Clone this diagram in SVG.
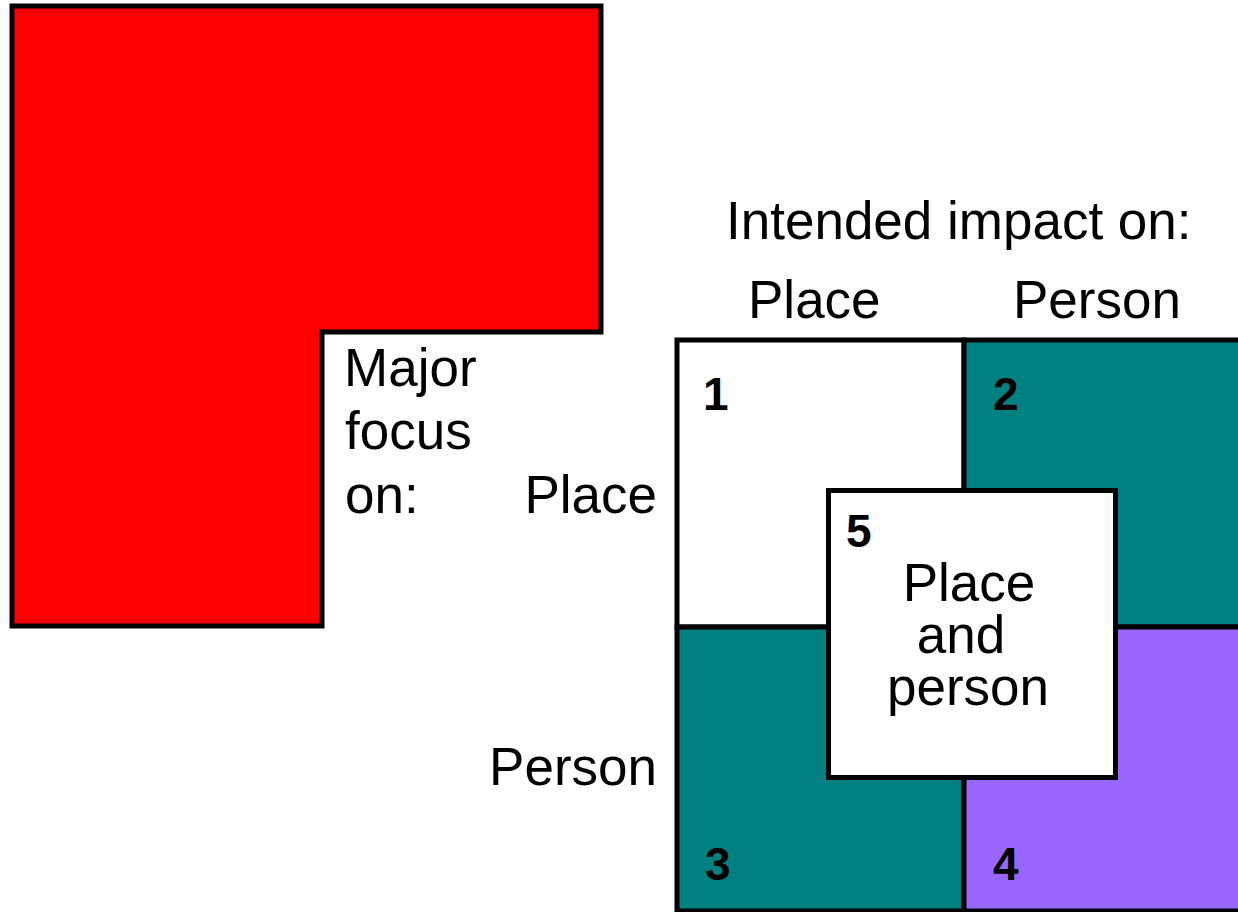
<svg xmlns="http://www.w3.org/2000/svg" width="1238" height="912" viewBox="0 0 1238 912">
<style>
.t{font-family:"Liberation Sans",Arial,sans-serif;font-size:53px;fill:#000}
.n{font-family:"Liberation Sans",Arial,sans-serif;font-size:46px;font-weight:bold;fill:#000}
.s{stroke:#000;stroke-width:5;stroke-linejoin:miter}
</style>
<rect width="1238" height="912" fill="#fff"/>
<g id="red-shape">
<polygon class="s" points="12,6 601,6 601,332 322,332 322,626 12,626" fill="#ff0000"/>
</g>
<g id="labels">
<text class="t" x="726" y="239">Intended impact on:</text>
<text class="t" x="748" y="318">Place</text>
<text class="t" x="1013" y="318">Person</text>
<text class="t" x="344" y="386">Major</text>
<text class="t" x="345" y="449">focus</text>
<text class="t" x="345" y="513">on:</text>
<text class="t" x="657" y="513" text-anchor="end">Place</text>
<text class="t" x="657" y="785" text-anchor="end">Person</text>
</g>
<g id="cell1">
<rect class="s" x="677" y="340" width="287" height="287" fill="#fff"/>
<text class="n" x="703" y="410">1</text>
</g>
<g id="cell2">
<rect class="s" x="964" y="340" width="290" height="287" fill="#008080"/>
<text class="n" x="993" y="410">2</text>
</g>
<g id="cell3">
<rect class="s" x="677" y="627" width="287" height="284" fill="#008080"/>
<text class="n" x="705" y="880">3</text>
</g>
<g id="cell4">
<rect class="s" x="964" y="627" width="290" height="284" fill="#9966ff"/>
<text class="n" x="993" y="880">4</text>
</g>
<g id="cell5">
<rect class="s" x="828.5" y="490.5" width="287" height="287" fill="#fff"/>
<text class="n" x="846" y="547">5</text>
<text class="t" text-anchor="middle"><tspan x="969" y="601">Place</tspan><tspan x="961" y="653">and</tspan><tspan x="968" y="705">person</tspan></text>
</g>
<g id="connectors"></g>
</svg>
